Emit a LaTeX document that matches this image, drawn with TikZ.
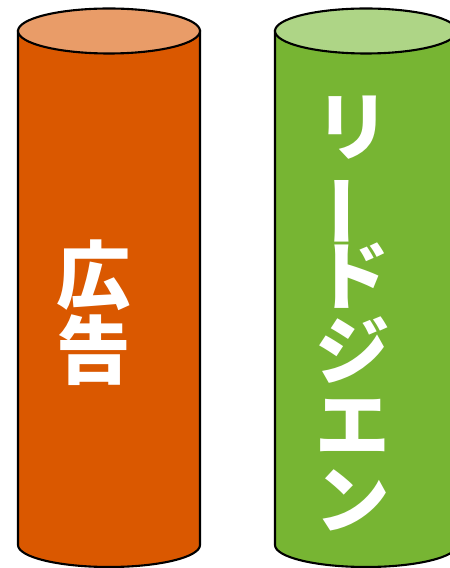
\documentclass[tikz,border=0pt]{standalone}
\usepackage{fontspec}
\newfontfamily\jpfont{Noto Sans CJK JP}
\definecolor{adbody}{HTML}{DA5800}
\definecolor{adtop}{HTML}{E99C68}
\definecolor{leadbody}{HTML}{77B533}
\definecolor{leadtop}{HTML}{AED586}
\tikzset{
  can/.style={draw=black, line width=3pt},
  lbl/.style={text=white, inner sep=0pt, align=center,
    font=\jpfont\bfseries\fontsize{106}{106}\selectfont}
}
\begin{document}
\begin{tikzpicture}[scale=.5]
\useasboundingbox (0,0) rectangle (45,56.8);
\clip (0,0) rectangle (45,56.8);

\draw [can, fill=adbody] (1.8,53.7) -- (1.8,2.3) arc [start angle=180, end angle=360, x radius=9.1, y radius=2.2] -- (20,53.7) -- cycle;
\draw [can, fill=adtop] (10.9,53.7) ellipse [x radius=9.1, y radius=2.25];

\draw [can, fill=leadbody] (27.5,53.7) -- (27.5,2.3) arc [start angle=180, end angle=360, x radius=9.1, y radius=2.2] -- (45.7,53.7) -- cycle;
\draw [can, fill=leadtop] (36.6,53.7) ellipse [x radius=9.1, y radius=2.25];

\node [lbl] (ad) at (9.4,25.55) {広\\告};
\node [lbl] (lead) at (35.3,25.45) {リ\\\smash{\rotatebox[origin=c]{90}{ー}}\\ド\\ジ\\エ\\ン};
\end{tikzpicture}
\end{document}
